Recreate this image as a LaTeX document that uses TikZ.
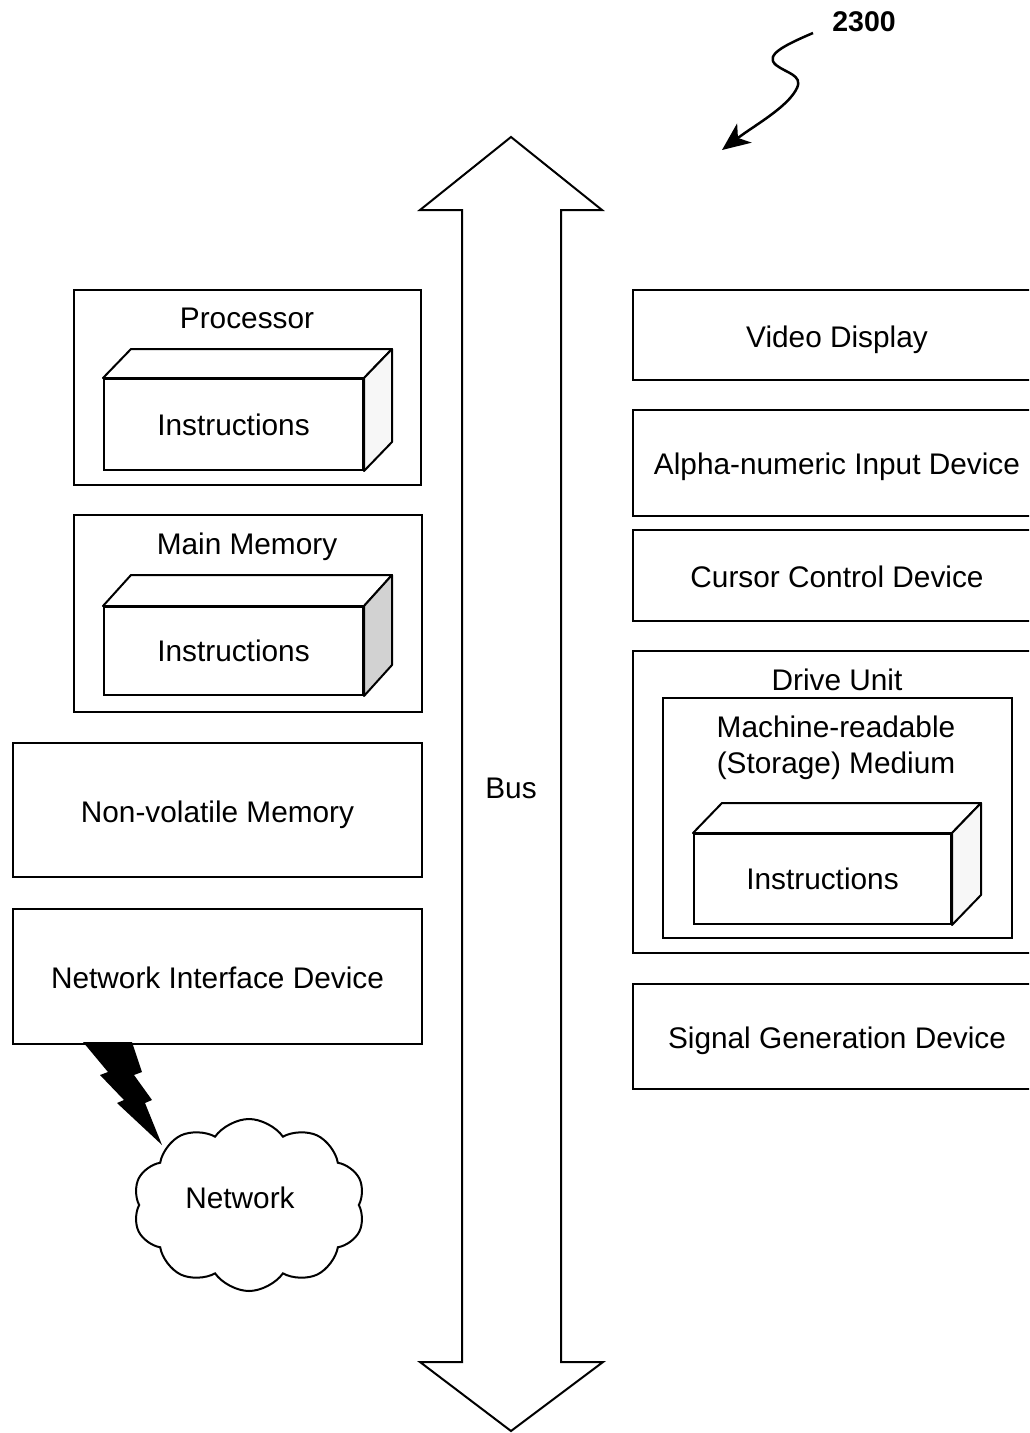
\documentclass[tikz,border=0pt]{standalone}
\usepackage{fontspec}
\setmainfont{Liberation Sans}
\usetikzlibrary{calc,shapes.symbols,arrows.meta}

\tikzset{
  box/.style={draw, line width=2pt, rectangle, anchor=north west, inner sep=0pt},
  face/.style={box},
  lbl/.style={inner sep=0pt, font=\fontsize{29.8}{36}\selectfont, text height=21pt, text depth=0pt},
  side/.style={draw, line width=2pt, line join=round},
}

% draws the top and right faces of a block whose front face is node #1,
% pushed back by (#2,#3); #4 is the fill of the right face
\newcommand{\blockdepth}[4]{%
  \draw[side, fill=white] (#1.north west) -- ++(#2,-#3) -- ($(#1.north east)+(#2,-#3)$) -- (#1.north east) -- cycle;
  \draw[side, fill=#4] (#1.north east) -- ++(#2,-#3) -- ($(#1.south east)+(#2,-#3)$) -- (#1.south east) -- cycle;
}

\begin{document}
\begin{tikzpicture}[x=1pt, y=-1pt]
\useasboundingbox (0,0) rectangle (1029,1433);
\clip (0,0) rectangle (1029,1433);

% reference numeral and its pointer
\node[inner sep=0pt, font=\bfseries\fontsize{28.5}{34}\selectfont] (ref) at (864,22) {2300};
\coordinate (refstart) at (813,33);
\coordinate (reftip) at (722,150);
\draw[line width=2.5pt, -{Stealth[length=28pt, width=24pt, inset=8pt]}]
  (refstart) .. controls (785,45) and (764,55) .. (776,65)
  .. controls (786,73) and (803,75) .. (797,88)
  .. controls (788,107) and (755,125) .. (reftip);

% the bus: a double-headed block arrow
\draw[line width=2pt, line join=miter, fill=white]
  (511,137) -- (602,210) -- (561,210) -- (561,1362) -- (603,1362) -- (511,1431)
  -- (420,1362) -- (462,1362) -- (462,210) -- (420,210) -- cycle;
\node[lbl] (bus) at (511,788) {Bus};

% left column
\node[box, minimum width=347pt, minimum height=195pt] (proc) at (73,289) {};
\node[lbl] (proclbl) at (247,318) {Processor};
\node[face, minimum width=259pt, minimum height=91pt] (procI) at (103,378) {};
\blockdepth{procI}{28}{29}{gray!6}
\node[lbl] at (procI.center) {Instructions};

\node[box, minimum width=348pt, minimum height=197pt] (mem) at (73,514) {};
\node[lbl] (memlbl) at (247,544) {Main Memory};
\node[face, minimum width=259pt, minimum height=88pt] (memI) at (103,606) {};
\blockdepth{memI}{28}{31}{gray!35}
\node[lbl] at (memI.center) {Instructions};

\node[box, minimum width=409pt, minimum height=134pt] (nvm) at (12,742) {};
\node[lbl] at ($(nvm.center)+(0,2)$) {Non-volatile Memory};

\node[box, minimum width=409pt, minimum height=135pt] (nid) at (12,908) {};
\node[lbl] at ($(nid.center)+(0,1)$) {Network Interface Device};

% wireless link and network
\fill (83,1042) -- (132,1042) -- (142,1072) -- (134,1075) -- (152,1100) -- (145,1103)
  -- (162,1145) -- (117,1103) -- (124,1100) -- (100,1075) -- (108,1072) -- cycle;
\node[cloud, draw, line width=2pt, cloud puffs=10, cloud puff arc=110, aspect=1.33,
      minimum width=232pt, minimum height=172pt, inner sep=0pt] (net) at (249,1205) {};
\node[lbl] at (240,1198) {Network};

% right column
\node[box, minimum width=408pt, minimum height=90pt] (video) at (632,289) {};
\node[lbl] at ($(video.center)+(0,2)$) {Video Display};

\node[box, minimum width=408pt, minimum height=106pt] (alpha) at (632,409) {};
\node[lbl] at ($(alpha.center)+(0,1)$) {Alpha-numeric Input Device};

\node[box, minimum width=408pt, minimum height=91pt] (cursor) at (632,529) {};
\node[lbl] at ($(cursor.center)+(0,1)$) {Cursor Control Device};

\node[box, minimum width=408pt, minimum height=302pt] (drive) at (632,650) {};
\node[lbl] at (837,680) {Drive Unit};
\node[box, minimum width=349pt, minimum height=240pt] (medium) at (662,697) {};
\node[lbl] at (836,727) {Machine-readable};
\node[lbl] at (836,763) {(Storage) Medium};
\node[face, minimum width=257pt, minimum height=90pt] (driveI) at (693,833) {};
\blockdepth{driveI}{29}{30}{gray!6}
\node[lbl] at (driveI.center) {Instructions};

\node[box, minimum width=408pt, minimum height=105pt] (signal) at (632,983) {};
\node[lbl] at ($(signal.center)+(0,1)$) {Signal Generation Device};
\end{tikzpicture}
\end{document}
